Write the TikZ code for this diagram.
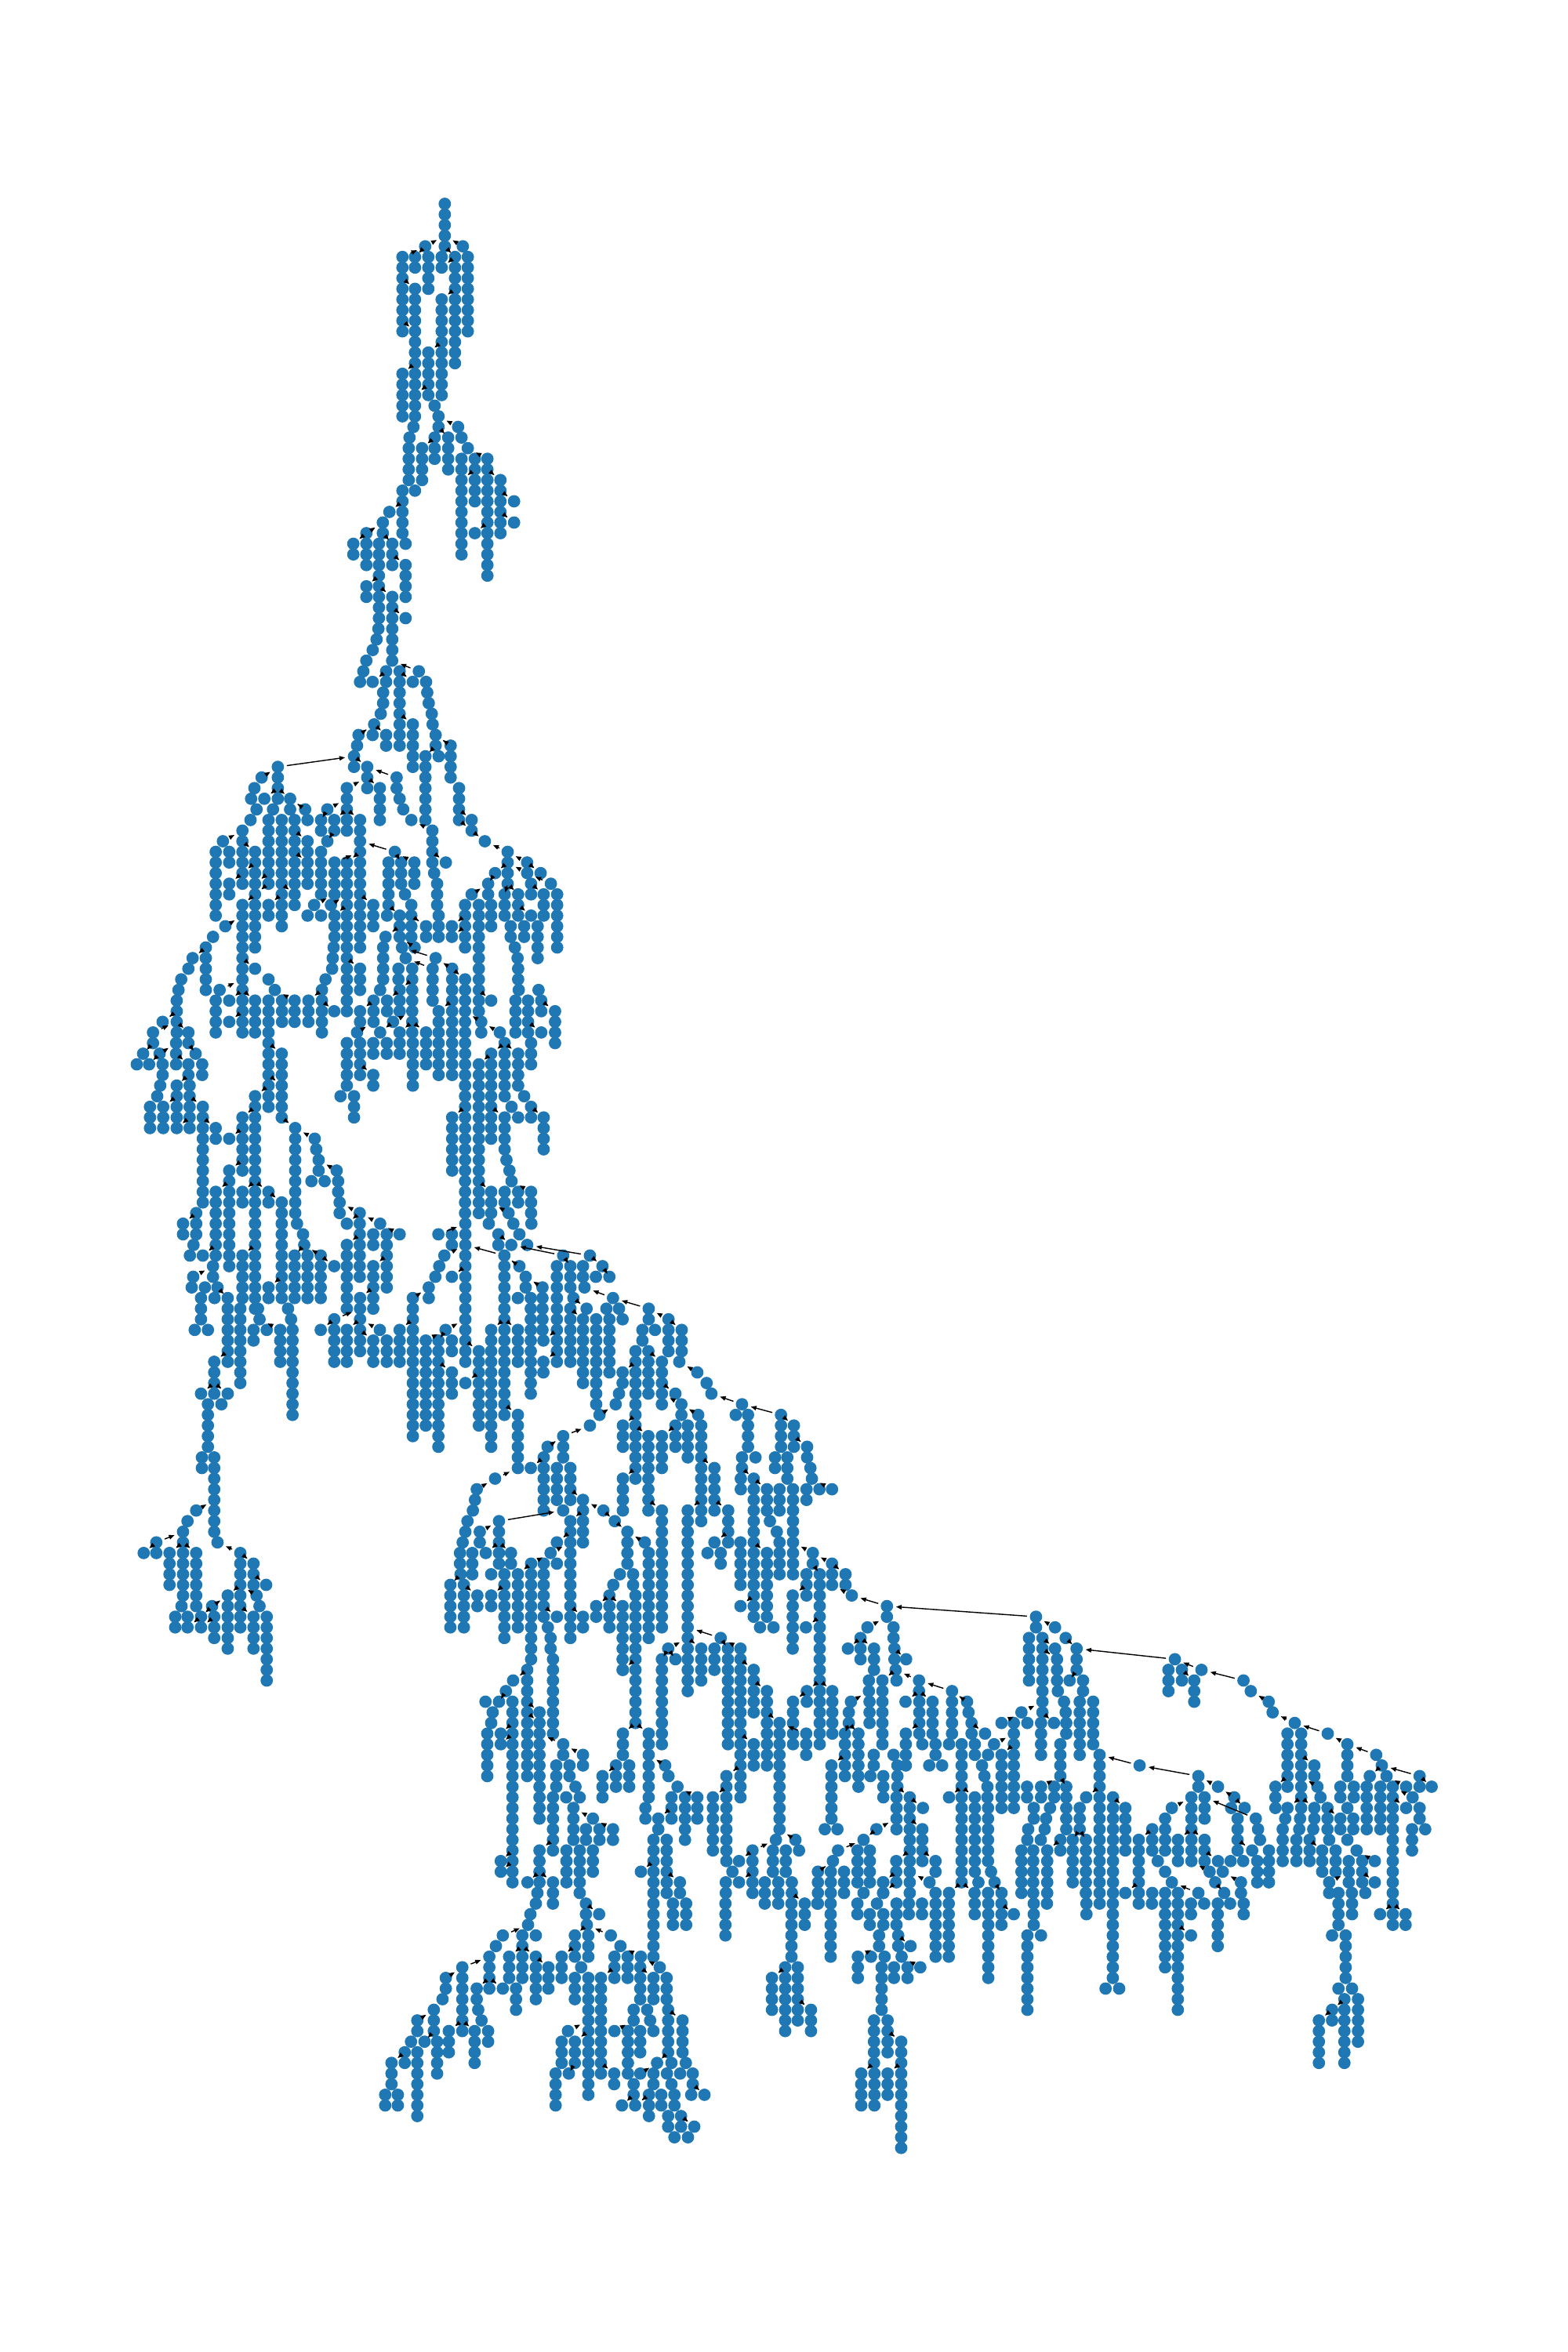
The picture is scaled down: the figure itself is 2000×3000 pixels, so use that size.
\documentclass[tikz,border=0pt]{standalone}
\usepackage{tikz}
\usetikzlibrary{arrows.meta}
\definecolor{tabblue}{HTML}{1F77B4}
\pgfdeclarelayer{bg}
\pgfsetlayers{bg,main}
\newsavebox{\dotbox}
\tikzset{
  vtx/.style={circle,inner sep=0pt,minimum size=7.9pt},
  lnk/.style={line width=0.7pt},
  chd/.style={line width=0.7pt,-{Triangle[length=3.6pt,width=2.8pt]}}
}
% prefix, left edge, x scale, list of x/first row/last row/parent x
\newcommand{\vchains}[4]{%
  \foreach \cx/\ra/\rb/\px in #4 {
    \pgfmathsetmacro{\nx}{#2+\cx/#3}
    \foreach \rw in {\ra,...,\rb} {
      \node[vtx] (#1\cx-\rw) at (\nx,{260+13.55*\rw}) {\usebox{\dotbox}};
    }
  }
}
\newcommand{\vlinks}[2]{%
  \begin{pgfonlayer}{bg}
    \draw[lnk] foreach \cx/\ra/\rb/\px in #2 {(#1\cx-\ra.center) -- (#1\cx-\rb.center)};
  \end{pgfonlayer}
  \foreach \cx/\ra/\rb/\px in #2 {
    \ifnum\px>0
      \pgfmathtruncatemacro{\rp}{\ra-1}
      \ifcsname pgf@sh@ns@#1\px-\rp\endcsname
        \draw[chd] (#1\cx-\ra) -- (#1\px-\rp);
      \fi
    \fi
  }
}
\def\chainsT{502/0/4/0,427/4/4/502,571/4/4/502,490/5/5/0,490/6/6/541,541/5/15/502,340/5/12/427,388/5/6/427,439/5/8/0,590/5/12/0,
388/8/11/340,388/12/17/340,388/18/20/439,490/9/18/541,439/14/18/490,340/16/20/388,382/21/21/0,463/19/19/0,478/20/21/0,463/22/24/0,
553/21/21/478,566/22/22/0,590/23/23/0,367/22/22/0,364/23/26/0,415/23/26/463,515/22/25/478,566/24/25/0,566/26/33/617,617/24/28/0,
665/24/35/590,715/26/31/665,767/28/28/715,767/30/30/715,617/31/31/665,340/27/27/0,388/27/27/0,340/28/31/0,352/32/32/0,290/29/29/340,
265/30/31/0,202/31/34/265,152/32/33/202,250/32/39/0,301/32/34/265,352/34/37/301,202/36/37/250,301/37/42/250,352/39/39/301,
248/40/40/0,241/41/41/0,226/42/42/0}
\def\chainsA{829/43/43/0,819/44/44/0,808/45/45/0,915/43/43/0,1004/44/44/915,895/44/45/0,940/44/51/0,850/45/45/895,984/45/45/940,
1028/45/45/0,1032/46/46/0,1037/47/47/0,1047/48/48/0,1050/49/49/0,1060/50/51/0,1070/52/52/0,885/46/47/0,877/48/48/0,855/49/49/0,
803/50/50/855,850/50/50/0,895/50/51/855,798/51/51/0,788/52/53/0,984/49/53/940,1026/52/58/1060,1110/51/54/1060,1138/55/58/0,
1180/58/58/1138,1180/59/59/1138,1224/60/60/1180,1300/61/64/1224,1365/62/62/1300,1365/63/63/1300,1410/63/63/1365,1444/64/64/1365,
1258/63/63/1300,1235/64/65/1258,1180/65/65/1235,1378/64/65/0,1290/65/67/1300,1335/65/67/1300,1420/65/67/1378,1465/65/70/0,
1378/67/67/1335,1158/66/70/0,1204/66/76/0,1245/66/68/0,1310/68/69/0,1355/68/69/0,1400/68/71/0,1324/70/70/0,1333/71/71/0,
1335/72/73/0,1337/74/74/0,1403/74/74/1337,1326/75/78/0,1412/75/76/0,1368/75/78/0,1458/76/78/1412,1412/78/78/1368,1274/78/78/1212,
1212/77/78/1158,1245/75/75/1204,
534/53/56/788,480/54/54/534,456/55/55/0,445/56/56/0,463/57/57/0,443/58/58/0,416/59/60/0,351/60/60/416,416/61/62/0,416/63/64/458,
327/61/67/0,372/61/62/0,458/61/63/416,458/64/64/503,458/65/70/503,372/64/65/416,489/56/56/534,518/57/57/0,575/56/57/534,503/58/64/0,
547/58/68/0,590/58/64/0,590/65/66/547,625/57/57/575,633/58/58/0,633/60/61/590,633/62/64/590,678/58/59/699,722/58/59/764,764/55/59/832,
699/57/57/764,832/53/55/788,874/55/58/832,930/54/55/832,940/56/56/0,952/57/57/0,979/58/58/0,1049/59/62/979,1055/63/63/0,1065/64/66/0,
1070/67/69/0,1094/62/62/1049,1028/68/69/979,1114/68/68/1158,1114/69/69/1158,808/58/70/764,699/60/60/722,678/61/65/0,924/61/61/808,
903/62/66/0,945/62/64/924,989/62/64/924,958/65/65/0,979/66/69/0,898/67/67/0,723/62/65/808,764/62/76/808,655/66/66/723,711/66/66/764,
633/67/67/0,678/67/67/0,723/67/69/764,720/70/70/0,717/71/71/0,715/72/72/0,693/73/73/0,681/74/78/0,852/66/68/808,808/72/74/764,
940/67/69/903,893/69/69/940,885/70/73/0,875/74/74/0,948/70/70/0,960/71/71/0,990/70/70/940,1060/71/71/948,1050/72/75/960,1115/72/78/1060,
1158/73/78/1115,936/72/73/0,982/72/78/0,940/74/76/982,898/75/76/940,853/75/77/0,808/76/77/853,918/77/77/982,875/78/78/918,798/78/78/853,
940/78/78/982,1028/78/78/982,1070/76/78/1115,
458/72/72/416,503/73/73/0,524/74/74/0,548/75/77/0,590/75/77/524,636/75/77/681,416/66/78/458,359/68/68/416,318/69/69/0,294/70/74/0,
250/71/71/294,236/72/72/0,212/73/73/0,203/74/74/0,197/75/78/0,150/77/77/197,118/78/78/197,236/78/78/197,340/74/74/416,327/75/78/0,
372/75/75/416,372/77/77/416,458/75/78/416,503/75/78/0,503/66/67/547,722/76/76/681}
\def\chainsB{118/79/79/0,85/80/80/118,140/80/80/195,195/79/81/0,260/80/80/236,236/79/79/0,64/81/81/0,105/81/81/140,150/81/82/0,
142/83/83/0,132/84/84/0,236/81/82/195,240/83/84/0,282/81/82/0,197/83/86/236,108/85/87/0,152/85/87/197,240/85/86/0,197/87/87/240,
240/87/87/0,284/85/86/240,284/87/94/0,327/87/88/284,372/88/88/416,416/86/91/458,458/84/104/503,503/79/85/0,547/80/82/503,547/83/86/503,
592/87/95/547,598/96/96/0,618/97/97/0,622/98/98/0,657/88/88/592,662/89/89/0,670/90/91/0,646/92/92/0,690/92/92/0,730/91/91/670,
735/92/93/0,740/94/95/0,807/95/101/740,764/96/96/807,875/96/96/807,852/97/98/0,897/97/102/0,940/97/97/875,764/98/104/807,852/100/104/897,
808/103/108/852,722/105/109/808,677/106/106/722,764/106/109/808,874/106/106/808,852/107/109/808,897/107/109/0,940/106/109/984,
764/79/83/0,743/84/84/0,788/84/86/0,808/79/82/0,852/79/80/0,852/82/83/808,897/79/80/0,940/79/80/0,984/79/83/0,1028/79/81/0,1070/79/82/0,
1115/79/82/0,1158/79/95/0,1204/81/95/1245,1245/80/88/1290,1290/79/84/0,1290/86/89/1245,1296/90/90/0,1306/91/91/0,1313/92/92/0,
1335/80/83/1290,1355/84/84/0,1378/79/81/0,1378/85/86/0,1313/85/85/0,1335/86/86/0,1420/86/89/1378,1458/79/79/0,1115/86/91/1158,
1290/93/94/0,1335/93/94/0,1378/93/95/1313,1245/93/95/1204,1303/95/95/1245,984/103/116/0,
262/95/97/0,253/98/98/0,241/99/99/0,284/99/99/327,218/96/97/262,327/93/99/372,318/100/101/0,372/91/100/416,252/101/101/318,247/102/102/0,
291/102/102/0,333/102/102/0,323/103/103/0,278/103/105/0,257/106/106/0,301/106/106/0,367/103/109/333,409/104/111/0,416/99/103/458,
416/93/94/458,503/93/94/458,547/94/103/503,503/102/103/547,590/99/103/622,633/99/103/0,677/99/102/622,677/103/103/0,722/100/100/677,
568/104/104/0,578/105/105/0,583/106/114/0,468/104/104/0,473/105/105/0,453/106/107/0,497/106/106/0,542/106/109/473,322/109/112/367,
278/112/112/322,367/112/112/322,301/113/117/0,346/113/113/0,
281/118/119/0,322/118/125/0,333/126/126/0,262/123/123/322,233/124/124/0,218/125/131/0,213/132/132/0,129/126/126/218,87/127/127/129,
129/127/127/0,173/127/130/218,262/127/132/218,409/127/134/333,453/128/130/409,495/130/130/453,463/131/131/409,473/132/132/0,
367/131/136/409,315/132/132/367,322/133/135/0,278/133/133/315,278/134/134/322,233/133/133/0,233/134/134/278,192/133/134/0,
453/133/136/409,497/133/139/0}
\def\chainsD{140/96/109/0,50/97/97/140,95/97/98/0,70/99/99/140,53/100/100/0,40/101/101/0,18/102/103/0,95/101/101/140,74/106/106/140,
8/107/115/74,50/107/117/74,95/107/108/0,95/110/112/50,140/111/111/185,185/108/115/140,226/106/117/270,270/99/114/140,315/106/109/270,
315/114/119/270,218/96/96/0,250/97/98/0,293/98/98/250,300/96/96/0,320/97/97/0,346/98/98/0,360/96/96/0,466/99/99/293,555/99/99/346,
445/100/109/0,490/100/102/466,500/103/103/0,490/104/109/0,532/100/101/0,537/102/102/0,597/100/100/555,575/101/101/0,620/101/101/597,
320/100/100/270,341/101/102/0,315/103/103/0,397/102/106/341,358/103/112/0,400/107/107/445,400/109/110/445,532/105/111/490,544/104/104/500,
576/105/113/0,587/114/114/641,620/105/110/0,610/104/104/0,652/104/104/0,664/105/105/0,632/103/103/537,751/104/105/632,817/105/108/751,
772/106/106/0,730/106/107/0,861/106/108/817,853/109/109/0,913/110/110/853,944/111/111/0,960/112/112/0,1062/113/113/960,1192/114/117/1062,
1235/115/117/1192,1279/117/118/1235,1290/119/119/0,1295/120/120/0,1320/121/121/0,1362/121/121/1295,1277/121/122/0,1082/114/117/0,
1041/114/114/0,1062/118/119/0,1107/118/118/0,1172/118/119/0,1213/118/120/0,1058/120/121/0,1101/120/133/1062,1145/121/123/1101,
1155/124/124/0,1178/125/125/0,1187/126/129/0,1187/121/123/0,1232/121/122/0,1232/123/129/0,1016/123/126/970,970/119/123/926,926/115/124/0,
916/114/114/860,881/115/118/0,840/115/117/0,795/116/119/840,860/113/114/795,840/112/112/795,795/109/113/750,750/108/112/0,707/108/120/0,
750/116/123/707,664/110/111/707,652/112/112/0,641/113/113/0,555/115/115/0,466/116/118/555,414/117/117/466,401/118/123/0,358/119/119/401,
445/119/122/0,490/119/122/0,532/122/126/490,600/123/123/532,638/124/124/600,680/125/128/638,738/126/126/680,751/127/135/0,795/123/134/750,
665/120/123/707,665/115/117/707,881/123/140/926,239/120/120/315,178/121/121/239,172/122/122/0,165/123/123/0,147/124/124/0,140/125/125/0,
131/126/126/0,122/127/128/0,124/129/129/0,135/130/134/0,90/130/134/124,180/131/132/135,252/124/128/0,188/125/126/252,163/127/129/0,
208/127/127/252,292/127/128/252,226/129/129/0,270/129/135/0,315/129/134/359,359/128/137/424,401/128/133/0,490/124/135/532,445/126/126/490,
424/127/127/490,445/128/128/0,226/131/132/270,655/129/129/0,633/130/130/0,620/131/131/0,576/132/133/620,620/132/134/0,664/132/138/620,
699/129/130/0,707/131/143/0,466/123/123/0,
1057/126/130/0,1145/127/133/1101,970/126/126/1016,947/127/127/0,991/127/128/0,1298/127/128/1232,1362/128/130/1298,1407/129/130/1362,
1428/131/131/1362,1545/132/133/1428,1277/129/131/0,1321/129/145/1298,1231/131/136/1277,1057/132/132/1101,
346/138/148/0,299/139/139/346,275/140/140/0,207/141/141/0,252/141/141/275,231/142/142/0,226/143/143/0,213/144/148/0,297/141/158/0,
258/144/144/297,258/145/145/297,387/142/142/346,387/143/152/346,415/134/134/0,424/135/136/0,432/137/144/0,466/145/146/387,532/146/147/466,
443/147/149/0,487/147/148/0,507/149/149/0,521/150/150/0,476/150/150/0,432/150/155/0,500/151/154/0,565/152/152/500,632/153/154/565,
587/153/154/0,542/153/154/0,477/155/158/0,521/155/159/0,565/155/157/0,387/155/158/432,380/159/159/0,432/158/159/387,347/158/158/387,
258/156/156/297,258/157/157/297,532/133/134/490,445/133/133/401,816/136/136/881,795/137/145/816,840/137/137/816,926/136/137/881,
926/138/139/0,970/136/138/0,1015/136/145/991,991/135/135/881,1057/136/150/991,665/138/138/707,1101/138/142/1057,1145/140/147/1101,
1101/145/147/1057,1187/143/153/1145,1010/148/149/1057,965/150/155/1010,1010/150/156/0,847/149/149/0,817/148/148/0,806/147/147/751,
751/144/150/707,665/144/146/707,642/147/149/0,686/147/149/0,597/148/150/642,740/151/152/0,827/150/152/0,872/150/154/0,913/150/152/847,
783/152/153/827,767/154/159/0,811/154/159/0,855/158/159/811,725/157/157/767,1175/154/154/0,1240/154/154/1187,1097/155/159/1175,
1165/155/157/0,1252/155/155/0,1208/155/157/0,1052/156/156/1097,1030/157/157/0,1052/158/158/1097,1008/158/159/0,1138/158/159/0,
1183/158/159/0,1228/158/159/0,1271/160/162/1228,
1360/147/152/1405,1338/153/153/0,1380/153/153/0,1405/144/148/1418,1425/141/141/1485,1418/142/143/0,1450/144/149/1418,1485/139/140/0,
1530/139/145/0,1487/141/143/0,1501/146/147/0,1490/148/148/0,1533/148/150/0,1415/136/136/1457,1457/135/137/0,1480/134/134/1545,
1502/136/138/1457,1275/134/134/1321,1278/140/141/1321,1232/141/145/1278,1363/140/144/1321,1276/144/146/1187,1510/153/153/0,
1467/154/154/1510,1382/155/155/1467,1365/156/156/0,1447/155/158/0,1488/155/158/0,1315/157/160/1365,1358/157/159/0,1402/157/159/0,
1467/159/159/0,1533/158/159/0,1122/134/134/0,1167/134/134/0}
\def\chainsE{365/134/135/0,368/136/137/0,372/138/138/0,375/139/139/0,365/146/146/0,378/147/149/0,375/150/153/0,450/139/140/372,
407/137/137/368,451/141/144/0,405/141/141/450,495/141/144/450,461/145/145/0,505/145/146/0,484/147/147/0,527/147/147/0,406/144/147/451,
560/140/144/450,550/145/145/0,610/141/141/560,615/142/142/0,625/143/144/0,636/145/146/0,660/147/147/0,668/148/148/0,678/149/150/0,
680/151/156/0,690/157/157/0,702/158/158/0,670/144/144/625,592/145/149/0,550/150/150/592,592/150/158/0,636/150/157/592,648/158/158/0,
463/151/151/419,419/150/159/378,461/153/156/419,505/156/157/461,374/156/158/419,330/158/158/374,330/159/159/374,485/158/158/419,
505/159/159/0,550/159/159/592,635/159/159/592,680/159/159/0,725/159/159/702,700/145/145/766,680/146/146/0,725/146/151/766,766/143/151/0,
725/143/143/0}
\def\chainsF{610/160/160/0,667/160/160/0,592/161/161/0,584/162/162/0,500/163/163/584,610/163/163/0,565/163/167/0,477/164/164/0,455/165/168/0,
521/165/167/565,610/165/169/565,652/166/168/610,500/168/168/455,544/168/170/0,413/168/169/455,418/170/170/0,429/171/171/0,365/166/172/455,
310/167/168/365,299/169/169/0,270/170/172/0,215/171/172/270,194/173/173/0,173/174/175/0,129/175/177/173,108/178/179/0,150/178/179/0,
239/173/173/270,281/173/176/0,215/174/180/0,320/172/174/365,406/172/175/365,451/172/173/0,
777/160/161/0,780/162/162/0,821/161/161/777,785/163/165/0,740/163/165/780,860/163/163/780,892/164/164/0,960/165/165/892,872/165/167/0,
916/165/167/0,696/165/167/740,761/166/166/0,958/166/169/0,1023/166/166/960,740/167/169/0,785/167/178/0,827/167/176/872,1002/167/169/958,
1046/167/169/0,1051/170/174/0,1062/175/175/0,936/170/171/0,981/170/170/0,991/171/171/0,1002/172/172/0,1099/171/174/1051,1110/175/175/0,
917/172/176/0,958/172/174/0,872/172/172/936,717/172/172/785,696/173/175/0,740/173/175/785,676/176/179/0,720/176/176/740,871/176/177/827,
958/176/176/1014,1014/175/175/1051,1002/176/177/0,1047/176/176/0,1091/176/176/0,1133/176/177/0,1128/178/178/0,1172/178/178/1133,
936/177/178/0,897/179/179/936,941/179/179/987,987/178/180/0,1028/178/179/0,1072/178/179/0,1062/177/177/0,1051/180/181/0,1094/180/181/0,
1138/181/181/1094,1072/182/182/0,1117/182/182/0,1242/160/163/0,1462/160/165/0,1548/160/160/0,1373/160/160/0,1418/160/160/0,
1067/160/162/0,1111/160/162/0,1002/160/165/0,1441/166/172/0,1483/166/171/0,1397/167/170/1441,1527/170/172/1483}
\def\chainsG{60/133/134/0,128/134/134/60,166/135/135/0,205/136/138/166,35/135/139/0,83/135/140/0,83/141/142/0,78/143/146/0,128/136/136/83,
135/137/139/83,138/140/140/0,160/141/141/0,166/142/142/0,168/143/144/0,180/139/139/205,228/139/140/0,216/141/146/0,264/141/145/0,
147/145/148/0,125/149/150/0,8/142/142/83,29/143/143/0,124/143/143/83,287/146/159/0,430/147/147/287,640/148/149/430,710/149/149/640,
768/150/150/710,805/151/151/768,615/150/153/0,662/150/152/0,757/151/151/0,780/152/155/0,845/152/152/0,853/153/153/0,860/154/154/0,
545/151/151/615,521/152/155/0,475/153/155/0,427/154/158/475,567/154/156/615,615/154/156/0,662/154/156/615,495/156/156/0,521/157/157/0,
545/158/158/0,832/155/155/780,892/155/158/0,850/156/158/0,710/156/156/662,755/156/156/0,800/156/156/0,727/157/157/0,680/157/157/615,
700/158/158/0,792/158/159/727,732/159/159/700,640/159/159/545,941/153/156/0,950/152/152/0,915/149/151/958,958/144/149/0,1007/144/151/0,
1003/152/152/0,1000/153/153/0,990/154/156/0,1037/154/156/0,1050/153/153/0,984/143/143/905,1102/144/144/984,905/142/142/0,891/141/141/827,
827/140/140/0,801/139/139/651,651/138/138/556,556/137/137/205,533/138/140/0,581/138/139/0,625/139/141/581,1054/147/148/1007,
1065/149/149/1007,1076/150/150/0,958/151/151/1007,1054/151/152/1007,1101/151/153/0,1107/154/154/0,1147/152/153/1101,1193/152/153/0,
1172/151/151/0,1172/154/154/0,1205/155/155/0,1270/156/156/1205,1177/156/158/0,1225/156/158/0,1130/155/157/0,1082/155/157/1037,
1107/158/159/1177,1270/158/158/1225,1236/159/159/0,1188/159/159/0,1140/159/159/0,1334/149/159/0,1290/149/153/0,1241/149/153/0,
1252/148/148/1295,1295/147/147/0,1275/146/146/1172,1312/148/148/0,1430/148/149/1295,1473/149/149/1430,1382/149/149/1312,1405/150/150/1334,
1382/151/151/1334,1430/151/152/0,1403/153/155/0,1450/153/153/0,1172/145/148/1102,1147/149/150/0,1195/149/150/0,335/150/159/0,
379/151/155/335,239/150/150/287,216/151/153/0,168/149/153/147,78/149/150/147,28/149/150/0,110/151/151/0,96/152/152/0,91/153/153/0,
52/151/152/0,32/153/153/0,29/154/154/0,77/154/154/0,147/154/155/0,191/154/158/216,238/154/159/216,100/155/159/147,50/155/159/0,
8/155/159/0,379/159/159/427,475/159/159/0,427/159/159/0,521/159/159/0,567/159/159/0}
\def\chainsH{202/160/165/0,265/160/161/0,294/161/162/0,311/160/160/0,326/161/162/0,316/163/164/0,357/160/162/0,361/163/164/0,369/165/165/0,
390/164/164/361,386/160/161/0,417/160/161/0,449/160/165/0,480/160/165/0,541/160/161/0,573/160/167/0,604/160/162/0,633/161/161/604,
266/165/167/316,297/165/165/0,329/165/165/0,322/166/170/0,351/166/167/0,383/166/167/0,413/166/166/369,304/171/175/0,336/171/174/0,
305/176/179/0,274/176/179/304,368/173/183/336,336/176/178/368,665/163/170/0,680/160/162/0,697/163/163/0,711/160/160/0,866/160/167/0,
804/160/161/0,835/160/160/0,849/168/168/0,881/168/168/0,927/160/160/0,958/160/160/0,989/160/166/0,1019/160/170/0,1050/160/161/0,
1050/163/163/1019,1081/160/160/0,1113/160/164/0,1142/160/160/0,1174/160/161/0,1397/160/162/0,1429/160/161/0,1382/163/163/0,
1414/163/167/0,1397/168/168/0,1429/168/168/0,1411/169/175/0,1443/169/173/0,1382/170/171/1411,1351/171/175/1382,1495/161/161/1525,
1525/160/162/0,1555/161/162/1525}
\begin{document}
\sbox{\dotbox}{\begin{pgfpicture}\pgfsetfillcolor{tabblue}\pgfpathcircle{\pgfpointorigin}{3.95pt}\pgfusepath{fill}\end{pgfpicture}}
\begin{tikzpicture}[x=0.5pt,y=-0.5pt]
    \useasboundingbox (0,0) rectangle (2000,3000);
    % Nodes
    \vchains{t}{400}{3}{\chainsT}
    \vchains{a}{150}{2.613}{\chainsA}
    \vchains{b}{150}{2.613}{\chainsB}
    \vchains{d}{540}{2.613}{\chainsD}
    \vchains{e}{1000}{2.613}{\chainsE}
    \vchains{f}{450}{2.613}{\chainsF}
    \vchains{g}{1300}{2.8}{\chainsG}
    \vchains{h}{950}{1.845}{\chainsH}
    % Edges
    \vlinks{t}{\chainsT}
    \vlinks{a}{\chainsA}
    \vlinks{b}{\chainsB}
    \vlinks{d}{\chainsD}
    \vlinks{e}{\chainsE}
    \vlinks{f}{\chainsF}
    \vlinks{g}{\chainsG}
    \vlinks{h}{\chainsH}
    \foreach \u/\v in {g60-133/d1545-132,b984-103/d18-102,d252-124/d466-123,d1510-153/e375-152,d1530-139/e372-138,
        e725-143/g8-142,g845-152/g662-150} {
      \draw[chd] (\u) -- (\v);
    }
\end{tikzpicture}
\end{document}
